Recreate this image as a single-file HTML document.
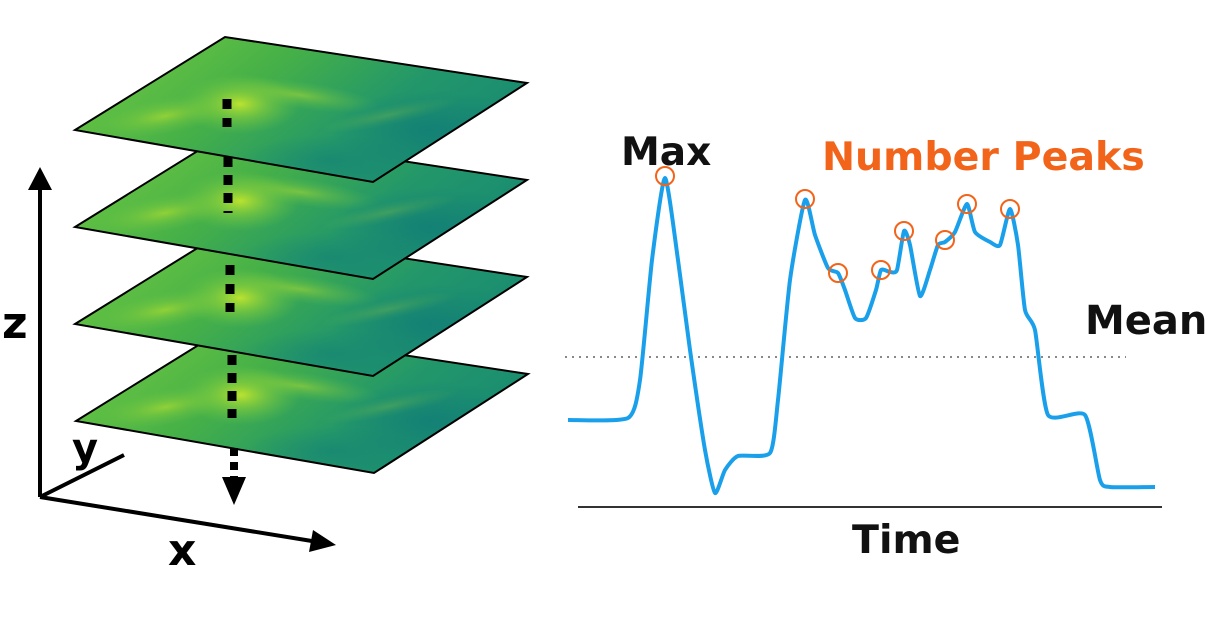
<!DOCTYPE html>
<html><head><meta charset="utf-8">
<style>
html,body{margin:0;padding:0;background:#fff;}
svg{display:block;}
text{font-family:"DejaVu Sans","Liberation Sans",sans-serif;font-weight:bold;}
</style></head>
<body>
<svg id="fig" width="1216" height="624" viewBox="0 0 1216 624">
<defs>
  <linearGradient id="baseG" x1="0" y1="0.3" x2="1" y2="0.7">
    <stop offset="0" stop-color="#6cc640"/>
    <stop offset="0.35" stop-color="#45b048"/>
    <stop offset="0.65" stop-color="#23976a"/>
    <stop offset="1" stop-color="#168874"/>
  </linearGradient>
  <radialGradient id="hot" cx="0.5" cy="0.5" r="0.5">
    <stop offset="0" stop-color="#c8e82c" stop-opacity="0.9"/>
    <stop offset="0.5" stop-color="#8fd23a" stop-opacity="0.5"/>
    <stop offset="1" stop-color="#6cc845" stop-opacity="0"/>
  </radialGradient>
  <radialGradient id="dark" cx="0.5" cy="0.5" r="0.5">
    <stop offset="0" stop-color="#0f7a78" stop-opacity="0.7"/>
    <stop offset="1" stop-color="#0f7a78" stop-opacity="0"/>
  </radialGradient>
  <g id="plane">
    <clipPath id="pc"><polygon points="75,130 225,37 527,83 373,182"/></clipPath>
    <g clip-path="url(#pc)">
      <polygon points="75,130 225,37 527,83 373,182" fill="url(#baseG)"/>
      <ellipse cx="240" cy="104" rx="60" ry="30" fill="url(#hot)"/>
      <ellipse cx="165" cy="116" rx="70" ry="18" fill="url(#hot)" opacity="0.6" transform="rotate(-10 165 116)"/>
      <ellipse cx="300" cy="95" rx="80" ry="14" fill="url(#hot)" opacity="0.5" transform="rotate(8 300 95)"/>
      <ellipse cx="390" cy="115" rx="70" ry="10" fill="url(#hot)" opacity="0.35" transform="rotate(-12 390 115)"/>
      <ellipse cx="430" cy="130" rx="100" ry="40" fill="url(#dark)"/>
      <ellipse cx="330" cy="160" rx="90" ry="25" fill="url(#dark)" opacity="0.6"/>
    </g>
    <polygon points="75,130 225,37 527,83 373,182" fill="none" stroke="#000" stroke-width="2"/>
  </g>
</defs>

<g>
  <use href="#plane" transform="translate(1,291)"/>
  <use href="#plane" transform="translate(0,194)"/>
  <use href="#plane" transform="translate(0,97)"/>
  <use href="#plane"/>
</g>
<g>
  <line x1="227" y1="99" x2="227" y2="127" stroke="#000" stroke-width="9" stroke-dasharray="10,9"/>
  <line x1="228" y1="157" x2="228" y2="213" stroke="#000" stroke-width="9" stroke-dasharray="10,8"/>
  <line x1="230" y1="265" x2="230" y2="312" stroke="#000" stroke-width="9" stroke-dasharray="10,9"/>
  <line x1="232" y1="355" x2="232" y2="418" stroke="#000" stroke-width="9" stroke-dasharray="10,8"/>
  <line x1="234" y1="448" x2="234" y2="478" stroke="#000" stroke-width="8" stroke-dasharray="8,6"/>
  <polygon points="222,477 246,477 234,505" fill="#000"/>
</g>
<g>
  <line x1="40" y1="497" x2="40" y2="185" stroke="#000" stroke-width="4"/>
  <polygon points="28,190 52,190 40,167" fill="#000"/>
  <line x1="40" y1="497" x2="318" y2="542" stroke="#000" stroke-width="4"/>
  <polygon points="313,530 336,545 309,552" fill="#000"/>
  <line x1="40" y1="497" x2="124" y2="455" stroke="#000" stroke-width="4"/>
  <text x="2" y="338" font-size="44">z</text>
  <text x="72" y="462" font-size="40">y</text>
  <text x="168" y="565" font-size="44">x</text>
</g>

<g id="chart">
  <line x1="565" y1="357" x2="1126" y2="357" stroke="#888" stroke-width="2" stroke-dasharray="2,5"/>
  <line x1="578" y1="507" x2="1162" y2="507" stroke="#333" stroke-width="2"/>
  <text x="621" y="165" font-size="39" fill="#111">Max</text>
  <text x="822" y="170" font-size="39.5" fill="#f26419">Number Peaks</text>
  <text x="1085" y="334" font-size="40" fill="#111">Mean</text>
  <text x="852" y="553" font-size="39.5" fill="#111">Time</text>
</g>
</svg>
<script>
const times = [0,60,72,84,97,110,122,137,147,157,170,202,210,222,237,247,260,270,277,287,298,308,313,322,329,336,342,352,362,370,377,387,399,407,422,432,442,450,457,467,480,517,532,542,587];
const values = [87,89,127,247,329,247,157,57,14,37,51,54,107,227,307,272,239,234,217,189,189,217,237,235,237,276,262,211,237,262,265,275,303,275,265,262,298,262,197,177,92,92,27,20,20];
const peakTimes = [97,237,270,313,336,377,399,442];
const peakValues = [331,308,234,237,276,267,303,298];
const xS = t => 568 + t;
const yS = v => 507 - v;
const NS = 'http://www.w3.org/2000/svg';
const chart = document.getElementById('chart');
const pts = times.map((t,i)=>[xS(t), yS(values[i])]);
let d = 'M' + pts[0][0] + ',' + pts[0][1];
for (let i=0;i<pts.length-1;i++){
  const p0=pts[Math.max(0,i-1)], p1=pts[i], p2=pts[i+1], p3=pts[Math.min(pts.length-1,i+2)];
  const k = 10;
  const c1=[p1[0]+(p2[0]-p0[0])/k, p1[1]+(p2[1]-p0[1])/k];
  const c2=[p2[0]-(p3[0]-p1[0])/k, p2[1]-(p3[1]-p1[1])/k];
  d += ' C'+c1[0]+','+c1[1]+' '+c2[0]+','+c2[1]+' '+p2[0]+','+p2[1];
}
const path = document.createElementNS(NS,'path');
path.setAttribute('d', d);
path.setAttribute('fill','none');
path.setAttribute('stroke','#1aa0ea');
path.setAttribute('stroke-width','4');
path.setAttribute('stroke-linejoin','round');


chart.appendChild(path);
peakTimes.forEach((t,i)=>{
  const c = document.createElementNS(NS,'circle');
  c.setAttribute('cx', xS(t));
  c.setAttribute('cy', yS(peakValues[i]));
  c.setAttribute('r', 9);
  c.setAttribute('fill','none');
  c.setAttribute('stroke','#f26419');
  c.setAttribute('stroke-width','2');
  
  
  chart.appendChild(c);
});
</script>
</body></html>
